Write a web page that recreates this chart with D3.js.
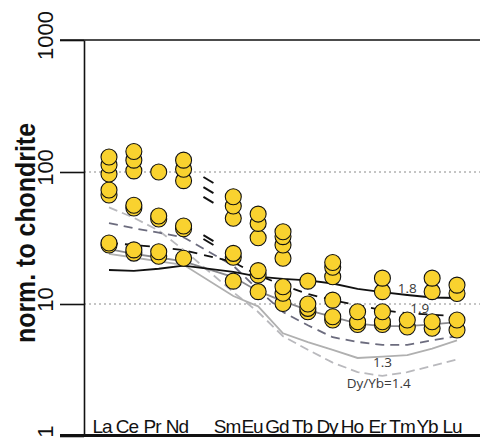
<!DOCTYPE html>
<html><head><meta charset="utf-8">
<script src="https://cdn.jsdelivr.net/npm/d3@7"></script>
<style>html,body{margin:0;padding:0;background:#fff;}svg{display:block;}</style>
</head><body><svg id="c" width="480" height="440"></svg>
<script>
// categories (Pm is an empty slot)
const elements = ["La","Ce","Pr","Nd","Pm","Sm","Eu","Gd","Tb","Dy","Ho","Er","Tm","Yb","Lu"];
const ree = ["La","Ce","Pr","Nd","Sm","Eu","Gd","Tb","Dy","Ho","Er","Tm","Yb","Lu"];
const yTicks = [1, 10, 100, 1000];
const yTitle = "norm. to chondrite";

// sample analyses (circles), order = ree
const s1 = [130, 143, null, 123, 65, 48, 35.3, null, 20.6, null, 15.7, null, 15.7, 13.9];
const s2 = [113, 123, 100, 105, 55.3, 40.8, 32.4, 14.9, 19.0, null, 12.4, null, 12.4, 12.0];
const s3 = [96.6, 102, null, 86, 44.6, 31.8, 28.0, null, 16.1, null, null, null, null, null];
const s4 = [73, 56, 46.4, 39, 24.2, 17.9, 22.2, null, null, null, null, null, null, null];
const s5 = [67, 53.4, 44, 37.2, 22.6, 16.6, 13.5, 10.0, 10.7, 8.74, 8.74, null, 7.34, 7.56];
const s6 = [29, 25.7, 24.9, 22.2, 14.9, 12.4, 12.05, 9.27, 8.0, 7.34, 7.34, 7.56, null, null];
const s7 = [28, 24.3, 23, null, null, null, 10.1, 8.74, 7.56, 7.0, 7.0, 6.7, 6.55, 6.35];
const samples = [s1, s2, s3, s4, s5, s6, s7];

// model / reference curves, order = ree
const lineBlack   = [18.1, 17.8, 18.5, 19.5, 17.5, 16.1, 15.5, 15.1, 14.3, 13.0, 12.3, 11.7, 11.2, 11.1];
const lineBlackDash = [29, 28, 27, 25.6, 20.8, 16.5, 13.9, 11.9, 10.7, 9.8, 9.0, 8.5, 8.3, 8.1];
const lineSlateDash = [41, 37.5, 34.7, 32, 19.5, 12.8, 8.7, 6.9, 5.6, 5.16, 4.9, 4.9, 5.3, 5.7];
const lineGray    = [26, 24, 22.5, 21, 16.0, 12.5, 10.5, 9.0, 8.0, 7.1, 6.8, 6.8, 7.0, 7.3];
const lineLight   = [24, 22.5, 21, 19.8, 11.5, 9.6, 6.0, 5.15, 4.5, 3.9, 4.0, 4.1, 4.6, 5.3];
const lineLightDash = [54, 45, 36, 25.7, 12.3, 8.7, 5.7, 4.5, 3.6, 3.05, 2.85, 3.05, 3.4, 3.8];

// curve labels: position given as element-slot index (0 = La) and value
const curveLabels = ["1.8", "1.9", "1.3", "Dy/Yb=1.4"];
const curveLabelIdx = [12, 12.5, 11, 10.85];
const curveLabelVal = [12.1, 8.55, 3.33, 2.31];

// break marks across the Pm gap
const breakVals = [87, 73, 61.6, 31.6, 29.5];

const svg = d3.select("#c");
const x = d3.scalePoint().domain(elements).range([109, 457]);
const xi = d3.scaleLinear().domain([0, elements.length - 1]).range([109, 457]);
const xl = d3.scalePoint().domain(elements).range([102, 452]);
const y = d3.scaleLog().domain([1, 1000]).range([436, 40]);

// gridlines
svg.append("g").selectAll("line").data([10, 100]).join("line")
  .attr("x1", 84).attr("x2", 480).attr("y1", d => y(d)).attr("y2", d => y(d))
  .attr("stroke", "#8a8a8a").attr("stroke-width", 1).attr("stroke-dasharray", "2,3");

// frame lines
svg.append("line").attr("x1", 60).attr("x2", 480).attr("y1", y(1000)).attr("y2", y(1000))
  .attr("stroke", "#111").attr("stroke-width", 1.6);
svg.append("line").attr("x1", 60).attr("x2", 480).attr("y1", y(1) - 0.5).attr("y2", y(1) - 0.5)
  .attr("stroke", "#111").attr("stroke-width", 3);

// y axis
const ax = svg.append("g").attr("transform", "translate(84,0)")
  .call(d3.axisLeft(y).tickValues(yTicks).tickSize(24).tickSizeOuter(0).tickFormat(d3.format("d")));
ax.select(".domain").attr("stroke", "#111").attr("stroke-width", 1.6);
ax.selectAll(".tick line").attr("stroke", "#111").attr("stroke-width", 1.6);
ax.selectAll(".tick text")
  .attr("transform", "rotate(-90)").attr("x", 5).attr("y", -31).attr("dy", 0)
  .attr("text-anchor", "middle").attr("fill", "#111")
  .style("font-family", "'Liberation Sans', Arial, Helvetica, sans-serif").style("font-size", "22px");

svg.append("text").attr("transform", "translate(35,233) rotate(-90)")
  .attr("text-anchor", "middle").attr("textLength", 220).attr("lengthAdjust", "spacingAndGlyphs")
  .style("font-family", "'Liberation Sans', Arial, Helvetica, sans-serif").style("font-weight", "bold")
  .style("font-size", "28px").attr("fill", "#111").text(yTitle);

// element labels
svg.append("g").selectAll("text").data(ree).join("text")
  .attr("x", d => xl(d)).attr("y", 433).attr("text-anchor", "middle")
  .style("font-family", "'Liberation Sans', Arial, Helvetica, sans-serif").style("font-size", "19px")
  .style("letter-spacing", "-1px").attr("fill", "#111").text(d => d);

// curves
const line = d3.line().x((d, i) => x(ree[i])).y(d => y(d));
const curves = [
  {v: lineLightDash, c: "#b9b9bd", dash: "9,5", w: 1.8},
  {v: lineLight, c: "#b0b0b0", dash: null, w: 1.8},
  {v: lineGray, c: "#8a8a8e", dash: null, w: 1.8},
  {v: lineSlateDash, c: "#6c6c7e", dash: "9,6", w: 1.8},
  {v: lineBlackDash, c: "#111", dash: "9,7", w: 1.8},
  {v: lineBlack, c: "#111", dash: null, w: 1.8}
];
svg.append("g").selectAll("path").data(curves).join("path")
  .attr("d", d => line(d.v)).attr("fill", "none").attr("stroke", d => d.c)
  .attr("stroke-width", d => d.w).attr("stroke-dasharray", d => d.dash);

// break marks
svg.append("g").selectAll("line").data(breakVals).join("line")
  .attr("x1", x("Pm") - 5).attr("x2", x("Pm") + 5)
  .attr("y1", d => y(d) - 3).attr("y2", d => y(d) + 3)
  .attr("stroke", "#111").attr("stroke-width", 2);

// curve labels
svg.append("g").selectAll("text").data(curveLabels).join("text")
  .attr("x", (d, i) => xi(curveLabelIdx[i])).attr("y", (d, i) => y(curveLabelVal[i]))
  .attr("text-anchor", "middle")
  .style("font-family", "'Open Sans', 'DejaVu Sans', sans-serif").style("font-size", "13.5px")
  .attr("fill", "#3a3a3a").text(d => d);

// circles
const pts = [];
samples.forEach(s => s.forEach((v, i) => { if (v != null) pts.push({el: ree[i], v}); }));
pts.sort((a, b) => a.v - b.v);
svg.append("g").selectAll("circle").data(pts).join("circle")
  .attr("cx", d => x(d.el)).attr("cy", d => y(d.v)).attr("r", 8)
  .attr("fill", "#f9d22f").attr("stroke", "#111").attr("stroke-width", 1.1);
</script></body></html>
